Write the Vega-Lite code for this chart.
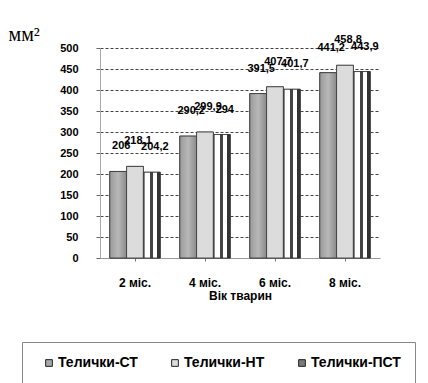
{
  "$schema": "https://vega.github.io/schema/vega-lite/v6.json",
  "width": 280,
  "height": 210,
  "autosize": "none",
  "padding": {"left": 100, "top": 48, "right": 48, "bottom": 125},
  "background": "white",
  "config": {
    "font": "Liberation Sans",
    "view": {"stroke": null},
    "locale": {"number": {"decimal": ",", "thousands": " ", "grouping": [3], "currency": ["", ""]}}
  },
  "data": {
    "values": [
      {"age": "2 міс.", "group": "Телички-СТ", "value": 206},
      {"age": "2 міс.", "group": "Телички-НТ", "value": 218.1},
      {"age": "2 міс.", "group": "Телички-ПСТ", "value": 204.2},
      {"age": "4 міс.", "group": "Телички-СТ", "value": 290.2},
      {"age": "4 міс.", "group": "Телички-НТ", "value": 299.9},
      {"age": "4 міс.", "group": "Телички-ПСТ", "value": 294},
      {"age": "6 міс.", "group": "Телички-СТ", "value": 391.5},
      {"age": "6 міс.", "group": "Телички-НТ", "value": 407.7},
      {"age": "6 міс.", "group": "Телички-ПСТ", "value": 401.7},
      {"age": "8 міс.", "group": "Телички-СТ", "value": 441.2},
      {"age": "8 міс.", "group": "Телички-НТ", "value": 458.8},
      {"age": "8 міс.", "group": "Телички-ПСТ", "value": 443.9}
    ]
  },
  "encoding": {
    "x": {
      "field": "age",
      "type": "nominal",
      "sort": ["2 міс.", "4 міс.", "6 міс.", "8 міс."],
      "scale": {"paddingInner": 0.28, "paddingOuter": 0.14},
      "axis": {
        "title": "Вік тварин",
        "titleFontSize": 12,
        "titleFontWeight": "bold",
        "titleColor": "#000",
        "titlePadding": 2,
        "labelAngle": 0,
        "labelFontSize": 12,
        "labelFontWeight": "bold",
        "labelColor": "#000",
        "labelPadding": 16,
        "tickSize": 3,
        "tickColor": "#777",
        "domainColor": "#999"
      }
    },
    "xOffset": {"field": "group", "type": "nominal", "sort": ["Телички-СТ", "Телички-НТ", "Телички-ПСТ"]},
    "y": {
      "field": "value",
      "type": "quantitative",
      "scale": {"domain": [0, 500]},
      "axis": {
        "values": [0, 50, 100, 150, 200, 250, 300, 350, 400, 450, 500],
        "title": "мм²",
        "titleAngle": 0,
        "titleX": -92,
        "titleY": -8,
        "titleAlign": "left",
        "titleBaseline": "alphabetic",
        "titleFont": "Liberation Serif",
        "titleFontSize": 20,
        "titleFontWeight": "normal",
        "titleColor": "#000",
        "labelFontSize": 11,
        "labelFontWeight": "bold",
        "labelColor": "#000",
        "labelPadding": 18,
        "tickSize": 4,
        "tickColor": "#666",
        "domainColor": "#aaa",
        "gridColor": "#444",
        "gridDash": [3, 2],
        "gridWidth": 1
      }
    }
  },
  "layer": [
    {
      "mark": {"type": "bar", "stroke": "#333", "strokeWidth": 0.8},
      "encoding": {
        "color": {
          "field": "group",
          "type": "nominal",
          "sort": ["Телички-СТ", "Телички-НТ", "Телички-ПСТ"],
          "scale": {"range": ["#a8a8a8", "#dedede", "#7a7a7a"]},
          "legend": {
            "orient": "none",
            "legendX": -78,
            "legendY": 294,
            "direction": "horizontal",
            "title": null,
            "strokeColor": "#888",
            "padding": 14,
            "symbolOffset": 6,
            "symbolType": "square",
            "symbolSize": 45,
            "symbolStrokeColor": "#222",
            "symbolStrokeWidth": 1,
            "labelFont": "Liberation Sans",
            "labelFontWeight": "bold",
            "labelFontSize": 14,
            "labelColor": "#000",
            "labelOffset": 2,
            "columnPadding": 24
          }
        }
      }
    },
    {
      "mark": {"type": "bar", "stroke": "#333", "strokeWidth": 0.8},
      "encoding": {
        "fill": {
          "condition": [
            {
              "test": "datum.group === 'Телички-ПСТ'",
              "value": {
                "gradient": "linear", "x1": 0, "y1": 0, "x2": 1, "y2": 0,
                "stops": [
                  {"offset": 0, "color": "#888"}, {"offset": 0.1, "color": "#888"},
                  {"offset": 0.1, "color": "#fff"}, {"offset": 0.38, "color": "#fff"},
                  {"offset": 0.38, "color": "#444"}, {"offset": 0.55, "color": "#444"},
                  {"offset": 0.55, "color": "#fff"}, {"offset": 0.8, "color": "#fff"},
                  {"offset": 0.8, "color": "#333"}, {"offset": 1, "color": "#333"}
                ]
              }
            },
            {
              "test": "datum.group === 'Телички-СТ'",
              "value": {
                "gradient": "linear", "x1": 0, "y1": 0, "x2": 1, "y2": 0,
                "stops": [
                  {"offset": 0, "color": "#9a9a9a"}, {"offset": 0.5, "color": "#b8b8b8"},
                  {"offset": 1, "color": "#8a8a8a"}
                ]
              }
            }
          ],
          "value": "#dcdcdc"
        }
      }
    },
    {
      "mark": {"type": "text", "fontWeight": "bold", "fontSize": 11, "baseline": "alphabetic", "dy": -22, "dx": 3, "color": "#000"},
      "encoding": {
        "text": {"field": "value", "type": "quantitative", "format": ".1~f"}
      }
    }
  ]
}
